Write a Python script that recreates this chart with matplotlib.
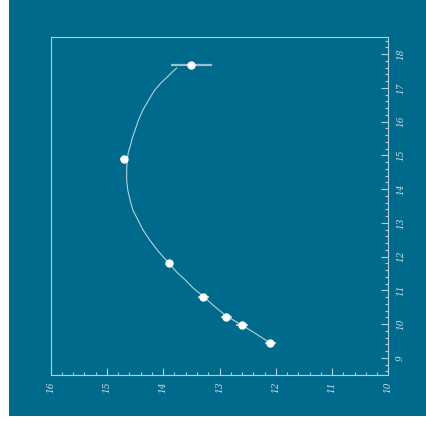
import matplotlib
matplotlib.use("Agg")
import matplotlib.pyplot as plt
from matplotlib.patches import Rectangle
from matplotlib.ticker import MultipleLocator

# measured points
pt_x = [13.50, 14.70, 13.90, 13.29, 12.88, 12.60, 12.10]
pt_y = [17.69, 14.89, 11.81, 10.80, 10.21, 9.97, 9.44]
pt_xerr = [0.36, 0.07, 0.05, 0.10, 0.10, 0.10, 0.10]

# model curve
curve_y = [9.44, 9.71, 9.97, 10.24, 10.54, 10.83, 11.07, 11.31, 11.54, 11.81,
           12.14, 12.49, 12.79, 13.09, 13.38, 13.68, 13.97, 14.27, 14.57, 14.86,
           15.10, 15.31, 15.52, 15.75, 16.05, 16.35, 16.64, 16.94, 17.15, 17.32,
           17.47, 17.59]
curve_x = [12.10, 12.35, 12.60, 12.88, 13.10, 13.29, 13.47, 13.61, 13.76, 13.90,
           14.08, 14.24, 14.36, 14.45, 14.54, 14.59, 14.63, 14.65, 14.65, 14.64,
           14.62, 14.58, 14.55, 14.50, 14.44, 14.36, 14.26, 14.15, 14.04, 13.93,
           13.84, 13.76]

x_ticks = [16, 15, 14, 13, 12, 11, 10]
y_ticks = [9, 10, 11, 12, 13, 14, 15, 16, 17, 18]

BG = "#006a8c"
FRAME = "#b4cfda"
TXT = "#cfdfe6"

W, H = 427, 428
fig = plt.figure(figsize=(W / 100, H / 100), dpi=100, facecolor="white")
fig.patches.append(Rectangle((9 / W, 12 / H), 1 - 9 / W, 1 - 12 / H,
                             transform=fig.transFigure, facecolor=BG,
                             edgecolor="none", zorder=-10))

ax = fig.add_axes([50.7 / W, 1 - 374.7 / H, (388.3 - 50.7) / W, (374.7 - 37.3) / H])
ax.set_zorder(1)
ax.set_facecolor(BG)
ax.set_xlim(16, 10)
ax.set_ylim(8.5, 18.5)

ax.plot(curve_x, curve_y, color="#b8d0da", lw=0.8, zorder=2,
        solid_joinstyle="round")
ax.errorbar(pt_x, pt_y, xerr=pt_xerr, fmt="o", color="white", ms=5,
            ecolor="#9cc0ce", elinewidth=1.6, capsize=0, zorder=3)

for s in ax.spines.values():
    s.set_color(FRAME)
    s.set_linewidth(0.8)

ax.set_xticks(x_ticks)
ax.set_xticklabels([str(t) for t in x_ticks])
ax.xaxis.set_minor_locator(MultipleLocator(0.2))
ax.set_yticks(y_ticks)
ax.set_yticklabels([str(t) for t in y_ticks])
ax.yaxis.set_minor_locator(MultipleLocator(0.2))

ax.tick_params(axis="x", which="both", direction="in", bottom=True, top=False,
               color=FRAME, labelcolor=TXT, labelsize=6.5, pad=5, labelrotation=90)
ax.tick_params(axis="y", which="both", direction="in", left=False, right=True,
               labelleft=False, labelright=True,
               color=FRAME, labelcolor=TXT, labelsize=6.5, pad=5.5, labelrotation=90)
ax.tick_params(which="major", length=5, width=0.8)
ax.tick_params(which="minor", length=2.5, width=0.8)

for lab in ax.get_xticklabels() + ax.get_yticklabels():
    lab.set_fontstyle("italic")
    lab.set_fontfamily("DejaVu Serif")
for lab in ax.get_yticklabels():
    lab.set_verticalalignment("center")

fig.savefig("out.png", dpi=100, facecolor="white")
